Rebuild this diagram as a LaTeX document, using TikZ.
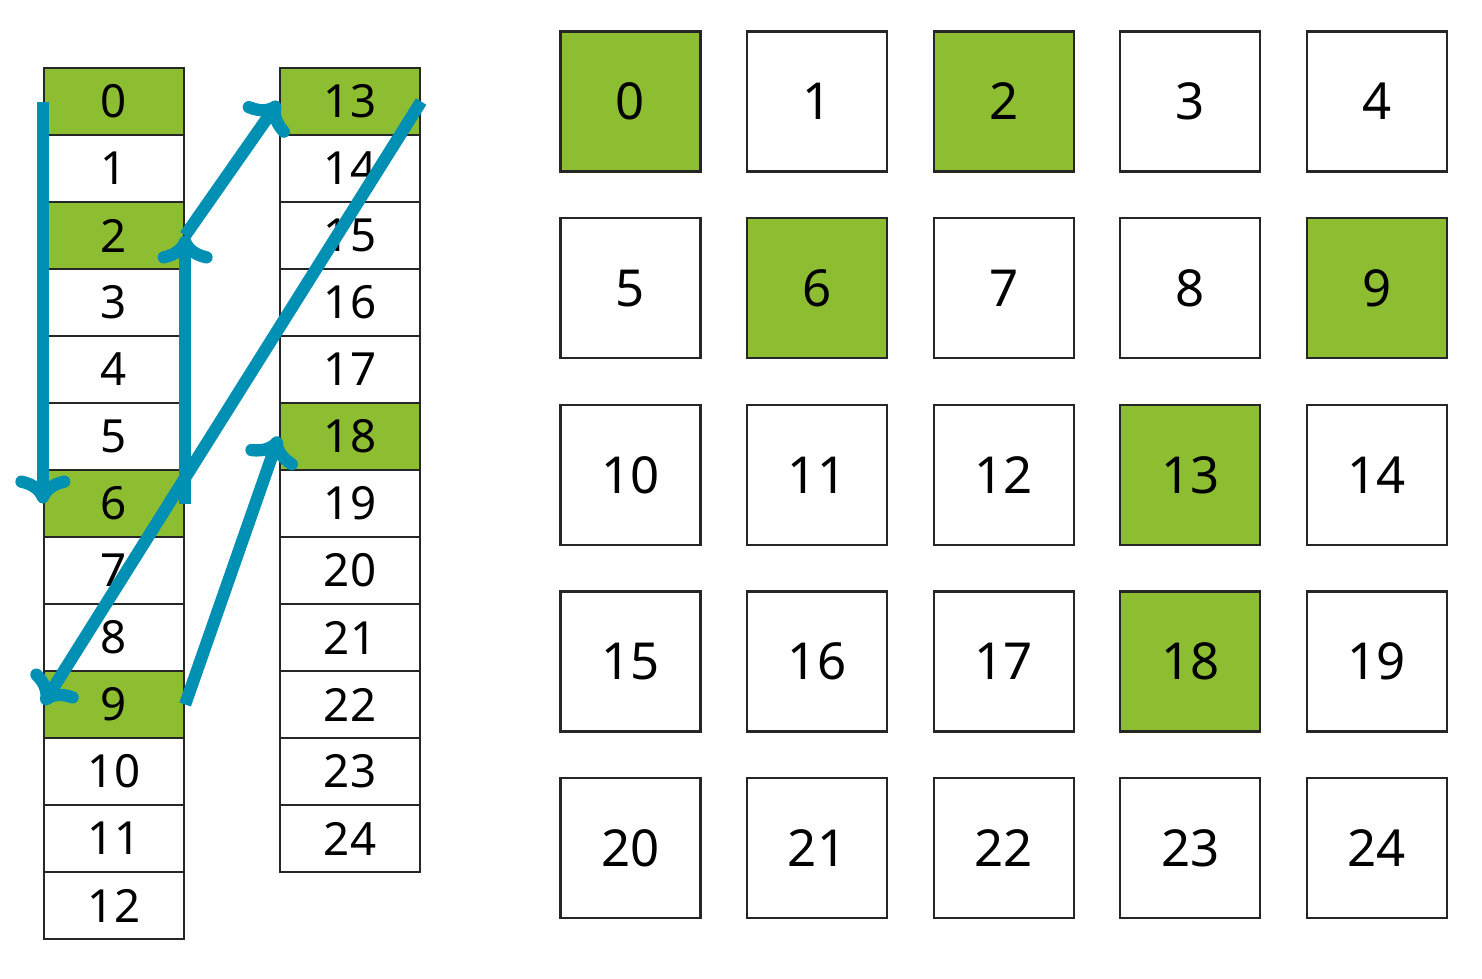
\documentclass[tikz,border=0pt]{standalone}
\usepackage{fontspec}
\setmainfont{Noto Sans}
\usetikzlibrary{arrows.meta}
\definecolor{cellgreen}{HTML}{8DBE32}
\definecolor{teal}{HTML}{0090B4}
\tikzset{
  colcell/.style={draw=black!85, line width=1.3pt, rectangle, inner sep=0pt,
    minimum width=2.8cm, minimum height=1.34cm, font=\fontsize{26}{26}\selectfont, fill=white},
  gridcell/.style={draw=black!85, line width=1.3pt, rectangle, inner sep=0pt,
    minimum width=2.8cm, minimum height=2.8cm, font=\fontsize{29}{29}\selectfont, fill=white},
  hl/.style={fill=cellgreen},
  jump/.style={draw=teal, line width=7pt,
    -{Computer Modern Rightarrow[length=0.56cm, width=1.1cm]}}
}
\begin{document}
\begin{tikzpicture}[x=0.02cm, y=-0.02cm]
\useasboundingbox (0,0) rectangle (1482,978);
% left column 0..12
\foreach \i in {0,...,12} {
  \pgfmathsetmacro{\yy}{68+67*\i+33.5}
  \node[colcell] (c\i) at (114,\yy) {\i};
}
\foreach \i in {0,2,6,9} { \node[colcell,hl] at (c\i) {\i}; }
% second column 13..24
\foreach \i in {13,...,24} {
  \pgfmathsetmacro{\yy}{68+67*(\i-13)+33.5}
  \node[colcell] (c\i) at (350,\yy) {\i};
}
\foreach \i in {13,18} { \node[colcell,hl] at (c\i) {\i}; }
% grid
\foreach \r in {0,...,4} {
  \foreach \c in {0,...,4} {
    \pgfmathtruncatemacro{\n}{5*\r+\c}
    \pgfmathsetmacro{\xx}{560+186.6*\c+70.5}
    \pgfmathsetmacro{\yy}{31+186.7*\r+70.5}
    \node[gridcell] (g\n) at (\xx,\yy) {\n};
  }
}
\foreach \n in {0,2,6,9,13,18} { \node[gridcell,hl] at (g\n) {\n}; }
% arrows
\draw[jump] (c0.west) -- (c6.west);
\draw[jump] (c6.east) -- (c2.east);
\draw[jump] (c2.east) -- (c13.west);
\draw[jump] (c13.east) -- (c9.west);
\draw[jump] (c9.east) -- (c18.west);
\end{tikzpicture}
\end{document}
